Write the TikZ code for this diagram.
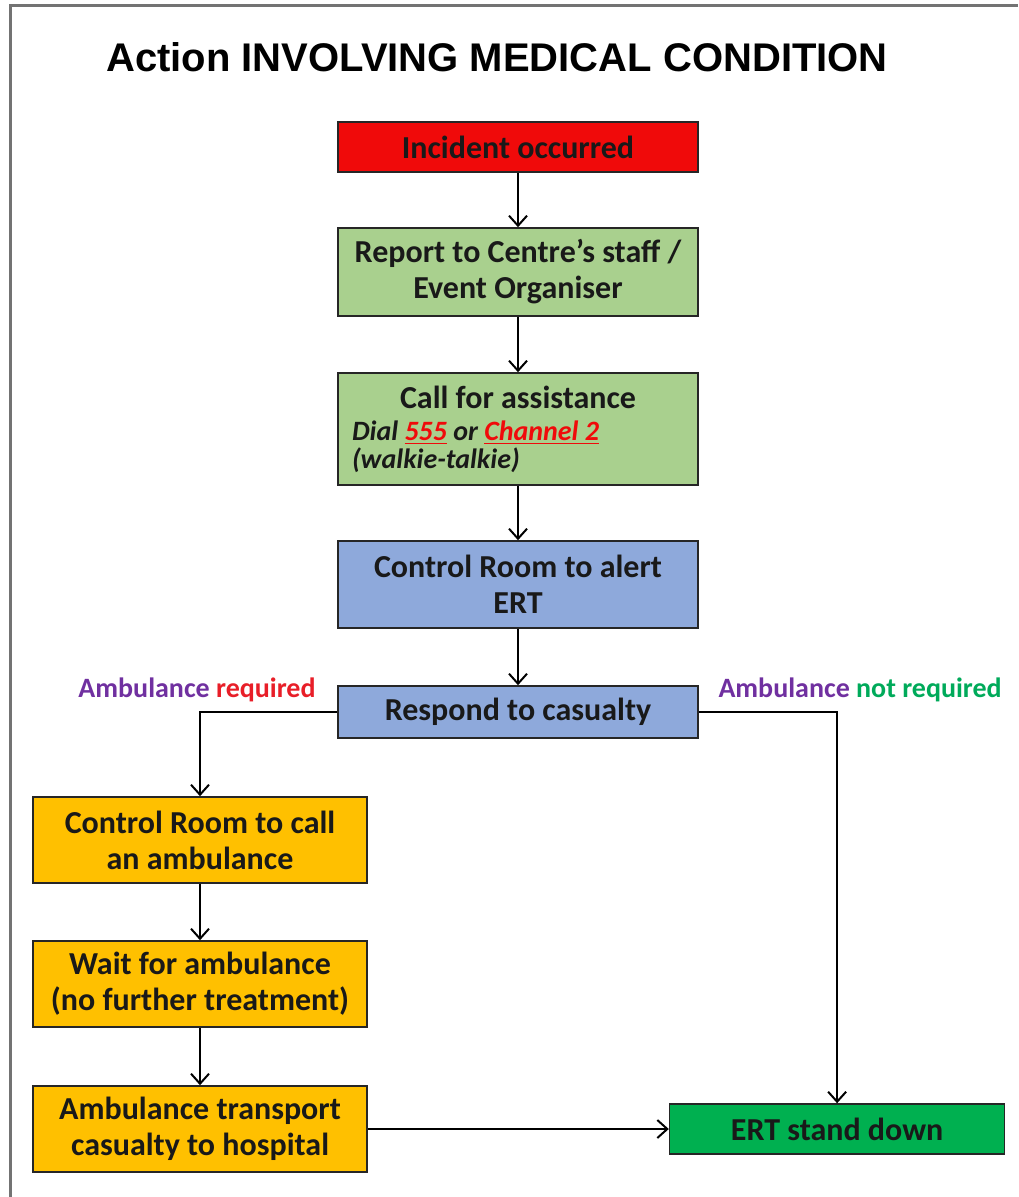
\documentclass[tikz,border=0pt]{standalone}
\usepackage{fontspec}
\setmainfont{Carlito}
\newfontfamily\titlefont{Liberation Sans}
\usetikzlibrary{arrows.meta, positioning}

\definecolor{alertred}{RGB}{240,10,10}
\definecolor{reportgreen}{RGB}{169,208,142}
\definecolor{ertblue}{RGB}{142,169,219}
\definecolor{ambamber}{RGB}{255,192,0}
\definecolor{standgreen}{RGB}{0,176,80}
\definecolor{labelpurple}{RGB}{112,48,160}
\definecolor{labelred}{RGB}{232,30,40}
\definecolor{labelgreen}{RGB}{0,170,90}

\begin{document}
\begin{tikzpicture}[node distance=27.2pt,
        block/.style={rectangle, draw=black!85, line width=0.8pt, text=black!90, font=\bfseries\fontsize{16}{18}\selectfont, align=center, minimum width=180pt, inner sep=3pt},
        ambblock/.style={block, fill=ambamber, minimum width=167pt, minimum height=43pt},
        branch/.style={font=\bfseries\fontsize{14}{16}\selectfont, inner sep=1pt},
        line/.style={draw, -{Straight Barb[length=5pt,width=9pt]}, line width=1pt}]

        \useasboundingbox (0,0) rectangle (509pt,-598.5pt);
        \draw[black!55, line width=1.5pt] (509pt,-3pt) -| (5pt,-598.5pt);

        % Title
        \node[font=\titlefont\bfseries\fontsize{20}{24}\selectfont, inner sep=0pt] (title) at (248.5pt,-28.5pt) {Action INVOLVING MEDICAL CONDITION};

        % Nodes
        \node [block, fill=alertred, minimum height=25pt] (incident) at (259pt,-73.5pt) {Incident occurred};
        \node [block, fill=reportgreen, minimum height=44pt, below=of incident] (report) {Report to Centre’s staff /\\Event Organiser};
        \node [block, fill=reportgreen, minimum height=56pt, below=27.7pt of report, text width=166pt, align=left] (assist)
            {\spaceskip=0pt \xspaceskip=0pt
             {\fontsize{16}{17}\selectfont\makebox[166pt]{Call for assistance}}\\[2pt]
             \itshape\fontsize{14}{14}\selectfont Dial \textcolor{alertred}{\underline{555}} or \textcolor{alertred}{\underline{Channel 2}}\\[-4pt]
             (walkie-talkie)};
        \node [block, fill=ertblue, minimum height=43.5pt, below=of assist] (alert) {Control Room to alert\\ERT};
        \node [block, fill=ertblue, minimum height=26pt, below=28.2pt of alert] (respond) {Respond to casualty};
        \node [ambblock, below=28.7pt of respond, xshift=-159pt] (callamb) {Control Room to call\\an ambulance};
        \node [ambblock, below=28.2pt of callamb] (wait) {Wait for ambulance\\(no further treatment)};
        \node [ambblock, below=28.7pt of wait] (transport) {Ambulance transport\\casualty to hospital};
        \node [block, fill=standgreen, minimum width=167.5pt, minimum height=25pt, right=150.5pt of transport] (standdown) {ERT stand down};

        % Branch labels
        \node [branch] (needamb) at ([xshift=-1.5pt, yshift=11pt]respond.west -| callamb.north)
            {\textcolor{labelpurple}{Ambulance} \textcolor{labelred}{required}};
        \node [branch] (noamb) at ([xshift=11.5pt, yshift=11pt]respond.east -| standdown.north)
            {\textcolor{labelpurple}{Ambulance} \textcolor{labelgreen}{not required}};

        % Edges
        \path [line] (incident) -- (report);
        \path [line] (report) -- (assist);
        \path [line] (assist) -- (alert);
        \path [line] (alert) -- (respond);
        \path [line] (respond.west) -| (callamb.north);
        \path [line] (respond.east) -| (standdown.north);
        \path [line] (callamb) -- (wait);
        \path [line] (wait) -- (transport);
        \path [line] (transport) -- (standdown);
    \end{tikzpicture}
\end{document}
